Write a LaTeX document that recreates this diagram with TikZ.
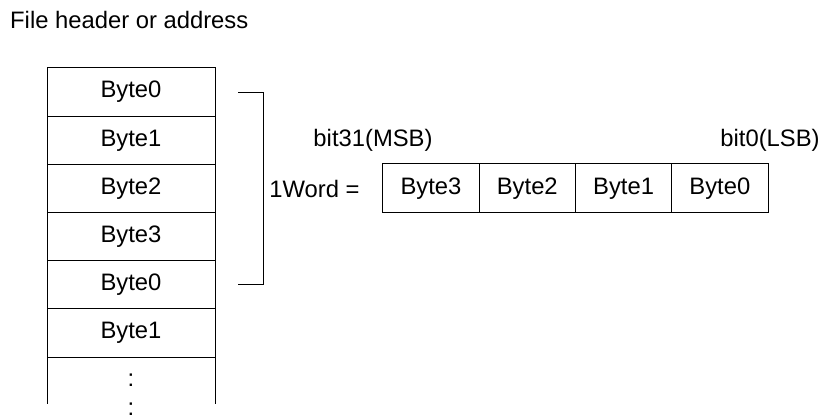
\documentclass[tikz,border=0pt]{standalone}
\usepackage{fontspec}
\setmainfont{Liberation Sans}
\usetikzlibrary{positioning}
\tikzset{
  cell/.style={rectangle,draw,line width=1pt,minimum width=168pt,
    minimum height=48.2pt,inner sep=0pt,outer sep=0pt},
  wcell/.style={rectangle,draw,line width=1pt,minimum width=96.3pt,
    minimum height=49pt,inner sep=0pt,outer sep=0pt},
  lbl/.style={inner sep=0pt},
  bracket/.style={line width=1pt}}

\begin{document}
\begin{tikzpicture}[x=1pt,y=-1pt,node distance=0pt,
    font=\fontsize{23.8}{28}\selectfont]
  \useasboundingbox (0,0) rectangle (823,419);
  \node[lbl,anchor=west] (title) at (10,20) {File header or address};
  % byte column
  \node[cell] (b0) at (131,92.1) {Byte0};
  \node[cell,below=of b0] (b1) {Byte1};
  \node[cell,below=of b1] (b2) {Byte2};
  \node[cell,below=of b2] (b3) {Byte3};
  \node[cell,below=of b3] (b4) {Byte0};
  \node[cell,below=of b4] (b5) {Byte1};
  \coordinate[below=47pt of b5.south west] (openl);
  \coordinate[below=47pt of b5.south east] (openr);
  \draw[bracket] (b5.south west) -- (openl);
  \draw[bracket] (b5.south east) -- (openr);
  \node[lbl] (dots1) at (131,380) {:};
  \node[lbl] (dots2) at (131,409) {:};
  % bracket
  \coordinate[right=23pt of b0.east] (brtop);
  \coordinate[right=23pt of b4.east] (brbot);
  \draw[bracket] (brtop) -- ++(25,0) |- (brbot);
  % word
  \node[wcell] (w3) at (431,188.5) {Byte3};
  \node[wcell,right=of w3] (w2) {Byte2};
  \node[wcell,right=of w2] (w1) {Byte1};
  \node[wcell,right=of w1] (w0) {Byte0};
  \node[lbl,left=23pt of w3] (word) {1Word =};
  \node[lbl] (msb) at (373,140) {bit31(MSB)};
  \node[lbl] (lsb) at (770,140) {bit0(LSB)};
\end{tikzpicture}
\end{document}
